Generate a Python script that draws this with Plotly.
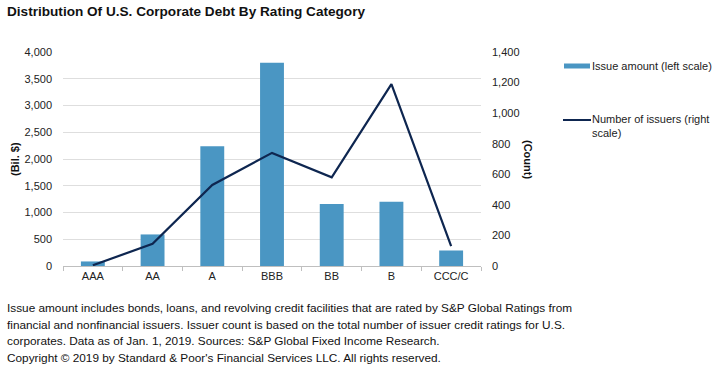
import plotly.graph_objects as go

categories = ["AAA", "AA", "A", "BBB", "BB", "B", "CCC/C"]
issue_amount = [85, 590, 2240, 3800, 1160, 1200, 290]
issuer_count = [5, 145, 530, 740, 580, 1190, 130]
left_ticks = [0, 500, 1000, 1500, 2000, 2500, 3000, 3500, 4000]
right_ticks = [0, 200, 400, 600, 800, 1000, 1200, 1400]
series_names = ["Issue amount (left scale)", "Number of issuers (right<br>scale)"]

title = "Distribution Of U.S. Corporate Debt By Rating Category"
footnote = [
    "Issue amount includes bonds, loans, and revolving credit facilities that are rated by S&P Global Ratings from",
    "financial and nonfinancial issuers. Issuer count is based on the total number of issuer credit ratings for U.S.",
    "corporates. Data as of Jan. 1, 2019. Sources: S&P Global Fixed Income Research.",
    "Copyright \u00a9 2019 by Standard & Poor's Financial Services LLC. All rights reserved.",
]

W, H = 720, 370
L, R, T, B = 63, 481, 52, 266
PW, PH = R - L, B - T

def px(x):
    return (x - L) / PW

def py(y):
    return (B - y) / PH

FONT = "Liberation Sans, Arial, sans-serif"
BAR_C = "#4a96c3"
LINE_C = "#0e2650"

fig = go.Figure()
fig.add_trace(go.Bar(
    x=categories, y=issue_amount, name=series_names[0],
    marker=dict(color=BAR_C, line=dict(width=0)), width=0.4,
    yaxis="y", showlegend=False,
))
fig.add_trace(go.Scatter(
    x=categories, y=issuer_count, name=series_names[1],
    mode="lines", line=dict(color=LINE_C, width=2.2),
    yaxis="y2", showlegend=False,
))

fig.update_layout(
    width=W, height=H,
    margin=dict(l=L, r=W - R, t=T, b=H - B, pad=0, autoexpand=False),
    paper_bgcolor="white", plot_bgcolor="white",
    font=dict(family=FONT, size=11, color="#222222"),
    title=dict(text="<b>" + title + "</b>", x=7 / W, xanchor="left",
               xref="container", yref="container", y=1 - 11 / H, yanchor="middle",
               font=dict(family=FONT, size=13.6, color="#111111")),
    showlegend=False,
    bargap=0.6,
    xaxis=dict(
        type="category", showgrid=False, showline=True, linecolor="#bfbfbf",
        linewidth=1, ticks="outside", tickson="boundaries", ticklen=4,
        tickcolor="#bfbfbf", tickfont=dict(size=11, color="#222222"),
        zeroline=False,
    ),
    yaxis=dict(
        range=[0, 4000], tickvals=left_ticks,
        ticktext=[f"{v:,}" for v in left_ticks],
        showgrid=True, gridcolor="#dedede", gridwidth=1,
        zeroline=False, showline=False, ticks="",
        tickfont=dict(size=11, color="#222222"),
        ticklabelstandoff=10,
    ),
    yaxis2=dict(
        range=[0, 1400], tickvals=right_ticks,
        ticktext=[f"{v:,}" for v in right_ticks],
        overlaying="y", side="right", showgrid=False, zeroline=False,
        showline=False, ticks="", tickfont=dict(size=11, color="#222222"),
        ticklabelstandoff=10,
    ),
)

# legend drawn as swatches + labels to the right of the plot
shapes = [
    dict(type="rect", xref="paper", yref="paper",
         x0=px(564), x1=px(590), y0=py(68.5), y1=py(63.5),
         fillcolor=BAR_C, line=dict(width=0)),
    dict(type="line", xref="paper", yref="paper",
         x0=px(563), x1=px(591), y0=py(120), y1=py(120),
         line=dict(color=LINE_C, width=2)),
]

annotations = [
    dict(text="<b>(Bil. $)</b>", x=px(15), y=0.5, xref="paper", yref="paper",
         showarrow=False, textangle=-90, font=dict(size=11, color="#111111"),
         xanchor="center", yanchor="middle"),
    dict(text="<b>(Count)</b>", x=px(528), y=0.5, xref="paper", yref="paper",
         showarrow=False, textangle=90, font=dict(size=11, color="#111111"),
         xanchor="center", yanchor="middle"),
    dict(text=series_names[0], x=px(590), y=py(66), xref="paper", yref="paper",
         showarrow=False, xanchor="left", yanchor="middle", align="left",
         font=dict(size=11, color="#222222")),
    dict(text=series_names[1], x=px(590), y=py(126), xref="paper", yref="paper",
         showarrow=False, xanchor="left", yanchor="middle", align="left",
         font=dict(size=11, color="#222222")),
]
for i, line in enumerate(footnote):
    annotations.append(dict(
        text=line, x=px(5), y=py(308 + i * 16.7), xref="paper", yref="paper",
        showarrow=False, xanchor="left", yanchor="middle", align="left",
        font=dict(size=11.8, color="#111111"),
    ))
fig.update_layout(annotations=annotations, shapes=shapes)

fig.write_html("out.html", config={"displayModeBar": False},
               post_script="document.body.style.margin='0';")
